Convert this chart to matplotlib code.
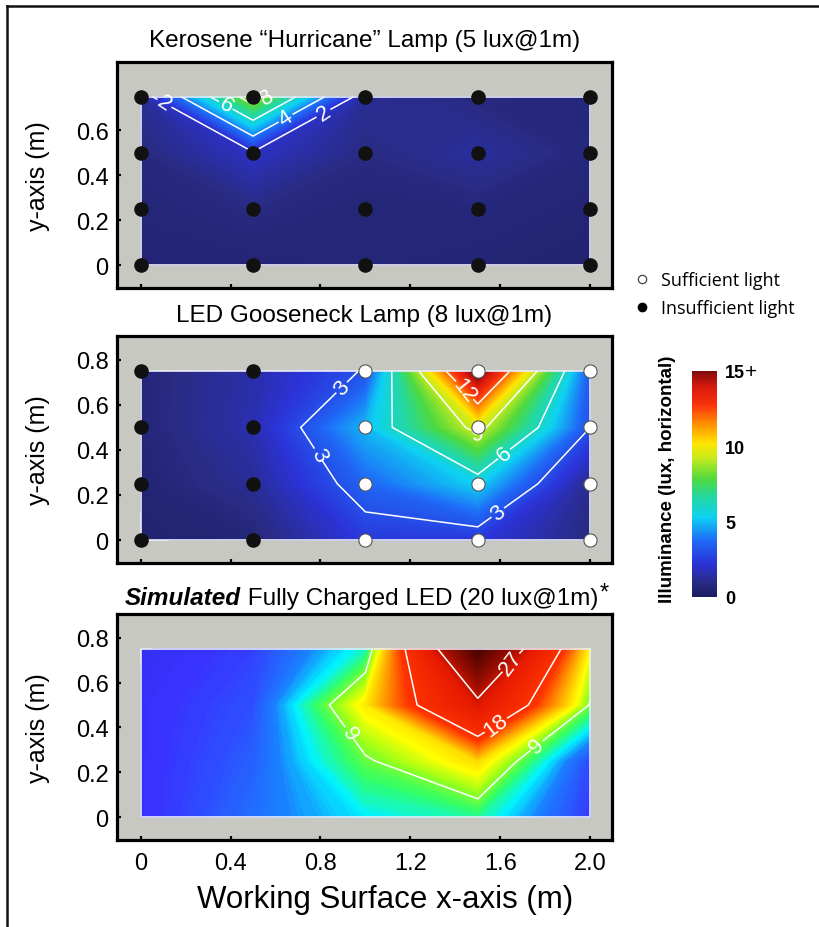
import numpy as np
import matplotlib
matplotlib.use("Agg")
import matplotlib.pyplot as plt
from matplotlib.colors import LinearSegmentedColormap, Normalize
from matplotlib.cm import ScalarMappable
from matplotlib.lines import Line2D
from matplotlib.patches import Rectangle

plt.rcParams['font.family'] = ['Liberation Sans', 'DejaVu Sans']

# measurement grid (m)
xs = [0, 0.5, 1.0, 1.5, 2.0]
ys = [0, 0.25, 0.5, 0.75]

# illuminance (lux), rows = ys, cols = xs
kerosene = [[0.5, 0.5, 0.6, 0.5, 0.4],
            [0.6, 0.9, 0.6, 0.7, 0.5],
            [0.8, 1.9, 0.9, 1.3, 0.7],
            [1.2, 9.0, 1.2, 0.8, 0.7]]
gooseneck = [[0.4, 0.6, 2.4, 2.3, 0.8],
             [0.5, 1.2, 3.6, 5.3, 1.0],
             [0.6, 1.6, 4.9, 9.5, 3.0],
             [0.6, 1.5, 3.1, 15.5, 3.2]]
simulated = [[2.2, 4.5, 6.5, 7.5, 2.8],
             [2.2, 4.0, 8.7, 12.1, 3.2],
             [2.2, 3.5, 11.6, 25.5, 8.8],
             [1.8, 3.0, 7.1, 38.0, 11.0]]

# 1 = sufficient light (open dot), 0 = insufficient (black dot)
kerosene_ok = [[0, 0, 0, 0, 0]] * 4
gooseneck_ok = [[0, 0, 1, 1, 1]] * 4

titles = ['Kerosene \u201cHurricane\u201d Lamp (5 lux@1m)',
          'LED Gooseneck Lamp (8 lux@1m)']
xticks = [0, 0.4, 0.8, 1.2, 1.6, 2.0]
xticklabels = ['0', '0.4', '0.8', '1.2', '1.6', '2.0']
cbar_ticks = [0, 5, 10, 15]

# colours
lux_cmap = LinearSegmentedColormap.from_list('lux', [
    (0.00, (0.11, 0.11, 0.38)),
    (0.06, (0.16, 0.17, 0.52)),
    (0.15, (0.17, 0.20, 0.85)),
    (0.25, (0.12, 0.42, 0.97)),
    (0.35, (0.05, 0.82, 0.95)),
    (0.45, (0.15, 0.85, 0.60)),
    (0.52, (0.30, 0.85, 0.25)),
    (0.62, (0.80, 0.92, 0.10)),
    (0.68, (1.00, 0.90, 0.00)),
    (0.77, (1.00, 0.55, 0.00)),
    (0.85, (0.98, 0.20, 0.05)),
    (0.93, (0.85, 0.10, 0.05)),
    (1.00, (0.50, 0.05, 0.05))])
sim_cmap = LinearSegmentedColormap.from_list('sim', [
    (0 / 40, (0.15, 0.15, 0.85)),
    (2.5 / 40, (0.22, 0.20, 1.00)),
    (5 / 40, (0.10, 0.50, 1.00)),
    (6.5 / 40, (0.00, 0.95, 1.00)),
    (8 / 40, (0.20, 1.00, 0.40)),
    (9.5 / 40, (0.60, 1.00, 0.10)),
    (11 / 40, (1.00, 1.00, 0.00)),
    (14 / 40, (1.00, 0.60, 0.00)),
    (17 / 40, (1.00, 0.20, 0.00)),
    (25 / 40, (0.90, 0.10, 0.00)),
    (30 / 40, (0.60, 0.05, 0.00)),
    (40 / 40, (0.20, 0.00, 0.00))])

fig = plt.figure(figsize=(8.19, 9.28), dpi=100)
W, H = 819, 928


def add_ax(top, bottom):
    return fig.add_axes([117 / W, 1 - bottom / H, 495 / W, (bottom - top) / H])


def draw_panel(ax, z, levels, cmap, norm, label_pos, ok=None):
    z = np.array(z)
    X, Y = np.meshgrid(xs, ys)
    ax.set_facecolor('#c8c8c3')
    fill_levels = np.linspace(z.min(), z.max(), 300)
    ax.contourf(X, Y, z, levels=fill_levels, cmap=cmap, norm=norm,
                antialiased=False, zorder=1)
    cs = ax.contour(X, Y, z, levels=levels, colors='white', linewidths=1.1, zorder=2)
    ax.clabel(cs, manual=label_pos, fmt='%d', fontsize=16, inline_spacing=3)
    ax.add_patch(Rectangle((xs[0], ys[0]), xs[-1] - xs[0], ys[-1] - ys[0],
                           fill=False, ec='#ececf8', lw=1.2, zorder=3))
    if ok is not None:
        ok = np.array(ok)
        ax.plot(X[ok == 0], Y[ok == 0], 'o', ms=9.5, mfc='#111111', mec='#111111', zorder=4)
        ax.plot(X[ok == 1], Y[ok == 1], 'o', ms=9.5, mfc='white', mec='#555555', mew=0.8, zorder=4)
    ax.set_xlim(-0.105, 2.097)
    ax.set_ylim(-0.102, 0.906)
    for s in ax.spines.values():
        s.set_linewidth(2.3)
    ax.set_xticks(xticks)
    ax.tick_params(direction='in', length=3, width=1.6, labelsize=17, pad=6,
                   top=False, right=False)


lin = Normalize(0, 15)

ax1 = add_ax(62.5, 289)
draw_panel(ax1, kerosene, [2, 4, 6, 8], lux_cmap, lin,
           [(0.09, 0.70), (0.37, 0.70), (0.58, 0.74), (0.64, 0.66), (0.81, 0.68)],
           kerosene_ok)
ax1.set_yticks([0, 0.2, 0.4, 0.6])
ax1.set_yticklabels(['0', '0.2', '0.4', '0.6'])
ax1.set_xticklabels([])
ax1.set_title(titles[0], fontsize=17.5, pad=11)

ax2 = add_ax(337, 564)
draw_panel(ax2, gooseneck, [3, 6, 9, 12], lux_cmap, lin,
           [(0.92, 0.66), (0.77, 0.37), (1.45, 0.67), (1.49, 0.43), (1.62, 0.38), (1.58, 0.13)],
           gooseneck_ok)
ax2.set_yticks([0, 0.2, 0.4, 0.6, 0.8])
ax2.set_yticklabels(['0', '0.2', '0.4', '0.6', '0.8'])
ax2.set_xticklabels([])
ax2.set_title(titles[1], fontsize=17.5, pad=11)

ax3 = add_ax(615, 841)
draw_panel(ax3, simulated, [9, 18, 27], sim_cmap, Normalize(0, 40),
           [(0.94, 0.38), (1.63, 0.70), (1.58, 0.41), (1.75, 0.33)])
ax3.set_yticks([0, 0.2, 0.4, 0.6, 0.8])
ax3.set_yticklabels(['0', '0.2', '0.4', '0.6', '0.8'])
ax3.set_xticklabels(xticklabels)
ax3.tick_params(axis='x', pad=9)

t1 = fig.text(125 / W, 1 - 605 / H, 'Simulated', fontsize=17.5, fontweight='bold',
              fontstyle='italic', va='baseline')
t2 = ax3.annotate(' Fully Charged LED (20 lux@1m)', xy=(1, 0), xycoords=t1,
                  va='bottom', fontsize=17.5, annotation_clip=False)
ax3.annotate('*', xy=(1, 1), xycoords=t2, xytext=(1, 4), textcoords='offset points',
             va='top', fontsize=17, annotation_clip=False)

for ax in (ax1, ax2, ax3):
    box = ax.get_position()
    fig.text(37.5 / W, box.y0 + box.height / 2, 'y-axis (m)', rotation=90,
             ha='center', va='center', fontsize=18)

fig.text(385 / W, 1 - 900 / H, 'Working Surface x-axis (m)', ha='center', va='center',
         fontsize=22.5)

# legend
handles = [Line2D([], [], ls='none', marker='o', ms=6, mfc='white', mec='#444444', mew=0.9),
           Line2D([], [], ls='none', marker='o', ms=6, mfc='black', mec='black')]
fig.legend(handles, ['Sufficient light', 'Insufficient light'], loc='center left',
           bbox_to_anchor=(619 / W, 1 - 295 / H), frameon=False, handlelength=0.8,
           handletextpad=0.6, labelspacing=0.55, prop={'family': 'Open Sans', 'size': 13})

# colour bar
cax = fig.add_axes([692 / W, 1 - 598 / H, 25 / W, 226 / H])
cb = fig.colorbar(ScalarMappable(norm=lin, cmap=lux_cmap), cax=cax)
cb.outline.set_visible(False)
cb.set_ticks(cbar_ticks)
cb.set_ticklabels([str(t) for t in cbar_ticks])
cax.tick_params(length=0, pad=6, labelsize=13)
for t in cax.get_yticklabels():
    t.set_fontweight('bold')
cax.text(2.1, 15, '+', transform=cax.get_yaxis_transform(), fontsize=15,
         va='center', ha='left')
fig.text(668 / W, 1 - 479 / H, 'Illuminance (lux, horizontal)', rotation=90,
         ha='center', va='center', fontsize=13.5, fontweight='bold')

# outer frame lines (left and top)
fig.add_artist(Line2D([6.5 / W, 6.5 / W], [0, 1 - 6.5 / H], transform=fig.transFigure,
                      color='#111111', lw=1.8))
fig.add_artist(Line2D([6.5 / W, 1], [1 - 6.5 / H, 1 - 6.5 / H], transform=fig.transFigure,
                      color='#111111', lw=1.8))

fig.savefig('out.png', dpi=100)
